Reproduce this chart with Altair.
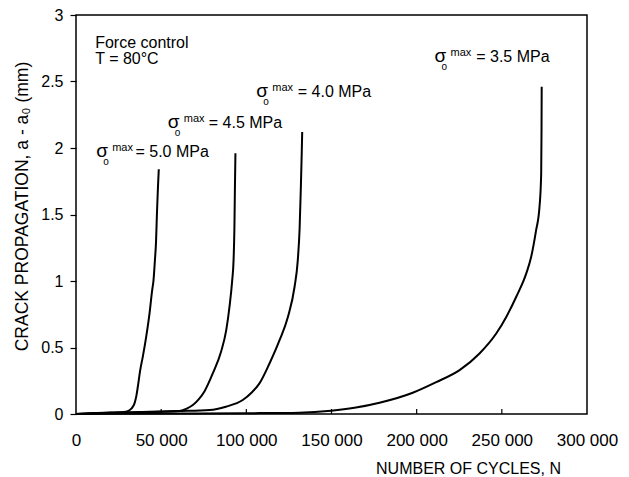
import altair as alt
import pandas as pd

# ---- data ----
c50_x = [0, 10000, 20000, 26000, 30000, 32500, 34350, 35500, 36300, 37700, 39200, 41200, 43150, 44700, 45500, 46300, 47000, 47500, 48100, 48600]
c50_y = [0, 0.008, 0.011, 0.013, 0.02, 0.04, 0.08, 0.14, 0.205, 0.33, 0.43, 0.58, 0.755, 0.93, 1.005, 1.15, 1.30, 1.50, 1.70, 1.84]

c45_x = [0, 20000, 40000, 55000, 60800, 65000, 68600, 72000, 75400, 80300, 85200, 88200, 90100, 91700, 92500, 93000, 93300, 93600]
c45_y = [0, 0.01, 0.015, 0.018, 0.022, 0.04, 0.067, 0.11, 0.17, 0.305, 0.47, 0.63, 0.805, 1.005, 1.155, 1.40, 1.70, 1.96]

c40_x = [0, 30000, 60000, 78400, 88000, 97900, 103000, 107700, 113600, 119500, 124400, 128300, 130200, 131300, 132000, 132500, 132800]
c40_y = [0, 0.012, 0.022, 0.03, 0.055, 0.105, 0.16, 0.23, 0.38, 0.555, 0.73, 0.955, 1.155, 1.40, 1.70, 1.95, 2.12]

c35_x = [0, 50000, 100000, 131200, 149800, 163500, 178200, 197700, 211500, 225200, 236900, 246700, 252600, 258400, 264300, 267200, 270100, 272100, 273100, 273300, 273400]
c35_y = [0, 0.003, 0.006, 0.01, 0.025, 0.047, 0.085, 0.16, 0.24, 0.33, 0.455, 0.605, 0.73, 0.88, 1.055, 1.18, 1.38, 1.555, 1.805, 2.13, 2.46]

curve_names = ["5.0", "4.5", "4.0", "3.5"]

ann_labels = ["= 5.0 MPa", "= 4.5 MPa", "= 4.0 MPa", "= 3.5 MPa"]
ann_sigma_x = [11860, 53900, 105800, 210480]
ann_text_x = [34900, 77970, 130220, 234960]
ann_y = [1.935, 2.15, 2.385, 2.65]

info_lines = ["Force control", "T = 80°C"]
info_x = [11270, 11270]
info_y = [2.755, 2.63]

x_ticks = [0, 50000, 100000, 150000, 200000, 250000, 300000]
y_ticks = [0, 0.5, 1, 1.5, 2, 2.5, 3]

# ---- build tables ----
rows = []
for name, xs_, ys_ in zip(curve_names, [c50_x, c45_x, c40_x, c35_x], [c50_y, c45_y, c40_y, c35_y]):
    for i, (a, b) in enumerate(zip(xs_, ys_)):
        rows.append({"curve": name, "i": i, "N": a, "da": b})
curves = pd.DataFrame(rows)

ann = pd.DataFrame({"label": ann_labels, "sx": ann_sigma_x, "tx": ann_text_x, "y": ann_y})
info = pd.DataFrame({"t": info_lines, "x": info_x, "y": info_y})
ticks = pd.DataFrame({"v": x_ticks[1:-1]})

FONT = "Liberation Sans"
W, H = 511, 399

xs = alt.Scale(domain=[0, 300000], nice=False)
ys = alt.Scale(domain=[0, 3], nice=False)

lines = alt.Chart(curves).mark_line(color="black", strokeWidth=2, interpolate="monotone").encode(
    x=alt.X("N:Q", scale=xs, axis=alt.Axis(
        values=x_ticks, ticks=False, domain=False, grid=False,
        labelExpr="replace(format(datum.value, ','), ',', ' ')",
        labelOverlap=False, labelFlush=False,
        labelFont=FONT, labelFontSize=17, labelColor="black", labelPadding=18,
        title="NUMBER OF CYCLES, N", titleFont=FONT, titleFontSize=16, titleFontWeight="normal",
        titleColor="black", titleX=392, titleY=54, titleBaseline="middle", titleAlign="center")),
    y=alt.Y("da:Q", scale=ys, axis=alt.Axis(
        values=y_ticks, format="~g", ticks=True, tickSize=6, tickColor="black", tickWidth=1.2,
        domain=False, grid=False, labelOverlap=False, labelFlush=False,
        labelFont=FONT, labelFontSize=16, labelColor="black", labelPadding=7,
        title="CRACK PROPAGATION, a - a₀   (mm)", titleFont=FONT, titleFontSize=17.5,
        titleFontWeight="normal", titleColor="black", titleAngle=270, titleX=-54, titleY=191,
        titleBaseline="middle", titleAlign="center")),
    detail="curve:N",
    order="i:Q",
)

inticks = alt.Chart(ticks).mark_rule(color="black", strokeWidth=1.2).encode(
    x=alt.X("v:Q", scale=xs), y=alt.value(H), y2=alt.value(H - 5)
)

sig = alt.Chart(ann).mark_text(text="σ", font=FONT, fontSize=19, align="left", baseline="alphabetic", color="black").encode(
    x=alt.X("sx:Q", scale=xs), y=alt.Y("y:Q", scale=ys))
sub = alt.Chart(ann).mark_text(text="o", font=FONT, fontSize=10, align="left", baseline="alphabetic", dx=7, dy=8, color="black").encode(
    x=alt.X("sx:Q", scale=xs), y=alt.Y("y:Q", scale=ys))
sup = alt.Chart(ann).mark_text(text="max", font=FONT, fontSize=11, align="left", baseline="alphabetic", dx=16, dy=-6, color="black").encode(
    x=alt.X("sx:Q", scale=xs), y=alt.Y("y:Q", scale=ys))
txt = alt.Chart(ann).mark_text(font=FONT, fontSize=16, align="left", baseline="alphabetic", color="black").encode(
    x=alt.X("tx:Q", scale=xs), y=alt.Y("y:Q", scale=ys), text="label:N")

inf = alt.Chart(info).mark_text(font=FONT, fontSize=16, align="left", baseline="alphabetic", color="black").encode(
    x=alt.X("x:Q", scale=xs), y=alt.Y("y:Q", scale=ys), text="t:N")

chart = alt.layer(lines, inticks, sig, sub, sup, txt, inf).properties(
    width=W, height=H,
    autosize=alt.AutoSizeParams(type="none"),
    padding={"left": 68, "top": 7, "right": 34, "bottom": 62},
    background="white",
).configure_view(stroke="black", strokeWidth=1.5)

chart.save("out.html", embed_options={"renderer": "svg", "actions": False})
